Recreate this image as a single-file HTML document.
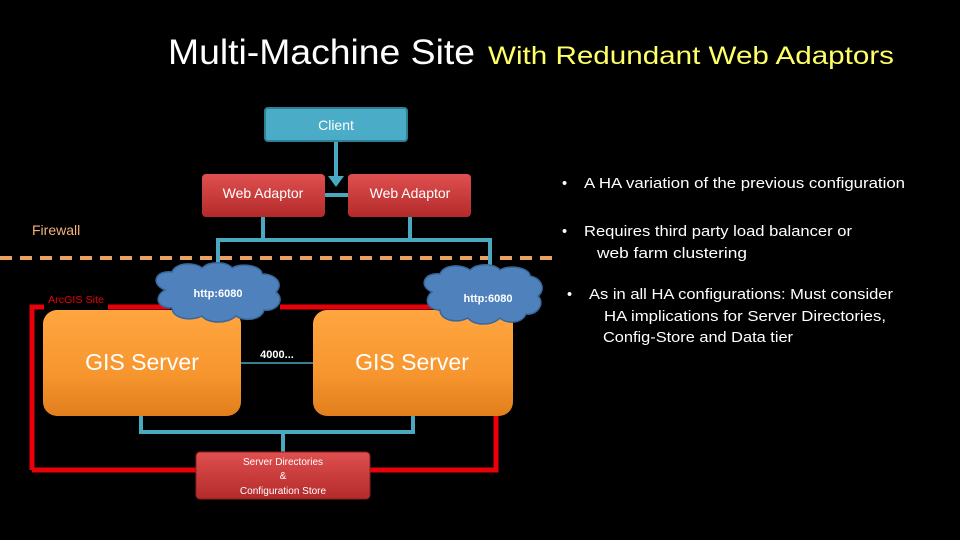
<!DOCTYPE html>
<html><head><meta charset="utf-8"><style>
html,body{margin:0;padding:0;background:#000;}
svg{display:block;}
text{font-family:"Liberation Sans",sans-serif;}
</style></head><body>
<svg width="960" height="540" viewBox="0 0 960 540" xmlns="http://www.w3.org/2000/svg">
<defs>
<linearGradient id="og" x1="0" y1="0" x2="0" y2="1"><stop offset="0" stop-color="#ffa640"/><stop offset="0.6" stop-color="#f7962f"/><stop offset="1" stop-color="#e07f1c"/></linearGradient>
<linearGradient id="rg" x1="0" y1="0" x2="0" y2="1"><stop offset="0" stop-color="#e05050"/><stop offset="1" stop-color="#b32a2a"/></linearGradient>
</defs>
<rect width="960" height="540" fill="#000"/>
<text x="168" y="64" font-size="35" fill="#fff" textLength="307" lengthAdjust="spacingAndGlyphs">Multi-Machine Site</text>
<text x="488" y="64" font-size="25" fill="#ffff66" textLength="406" lengthAdjust="spacingAndGlyphs">With Redundant Web Adaptors</text>

<!-- red site boundary -->
<path d="M32 470 V307 H44 M108 307 H170 M280 307 H440 M496 320 V470 H370 M196 470 H32" fill="none" stroke="#e8000b" stroke-width="5"/>
<text x="48" y="303" font-size="10" fill="#e8000b" textLength="56" lengthAdjust="spacingAndGlyphs">ArcGIS Site</text>

<!-- dashed firewall -->
<line x1="0" y1="258" x2="555" y2="258" stroke="#e9a25f" stroke-width="4" stroke-dasharray="12,8"/>
<text x="32" y="235" font-size="14" fill="#f4b37a">Firewall</text>

<!-- connectors -->
<g stroke="#4aa8c0" stroke-width="4" fill="none">
<line x1="336" y1="142" x2="336" y2="180"/>
<line x1="325" y1="195" x2="348" y2="195"/>
<path d="M263 217 V240 M410 217 V240 M218 272 V240 H490 V272"/>
<path d="M141 416 V432 H413 V416 M283 432 V452"/>
</g>
<polygon points="328,176 344,176 336,187" fill="#4aa8c0"/>
<line x1="241" y1="363" x2="313" y2="363" stroke="#4aa8c0" stroke-width="1.5"/>

<!-- client -->
<rect x="265" y="108" width="142" height="33" rx="3" fill="#4aacc6" stroke="#2f7f96" stroke-width="2"/>
<text x="336" y="130" font-size="14" fill="#fff" text-anchor="middle">Client</text>

<!-- web adaptors -->
<rect x="202" y="174" width="123" height="43" rx="4" fill="url(#rg)"/>
<text x="263" y="198" font-size="14" fill="#fff" text-anchor="middle">Web Adaptor</text>
<rect x="348" y="174" width="123" height="43" rx="4" fill="url(#rg)"/>
<text x="410" y="198" font-size="14" fill="#fff" text-anchor="middle">Web Adaptor</text>

<!-- GIS servers -->
<rect x="43" y="310" width="198" height="106" rx="14" fill="url(#og)"/>
<text x="142" y="370" font-size="23" fill="#fff" text-anchor="middle">GIS Server</text>
<rect x="313" y="310" width="200" height="106" rx="14" fill="url(#og)"/>
<text x="412" y="370" font-size="23" fill="#fff" text-anchor="middle">GIS Server</text>
<text x="277" y="358" font-size="11" fill="#fff" text-anchor="middle" font-weight="bold">4000...</text>

<!-- clouds -->
<g fill="#4f81bd" stroke="#3a6799" stroke-width="1.5">
<path d="M165 290 C150 284 155 270 172 272 C176 262 195 262 202 268 C210 260 228 262 232 268 C242 262 262 266 262 274 C276 274 284 284 276 292 C286 300 276 312 264 310 C262 320 244 322 236 316 C228 324 208 324 202 316 C190 322 172 318 172 308 C156 308 154 296 165 290 Z"/>
<path d="M432 292 C418 286 424 272 440 274 C444 264 462 264 470 270 C478 262 496 264 500 270 C510 264 530 268 530 276 C542 278 546 290 538 296 C546 304 536 316 526 314 C522 324 506 324 500 318 C492 326 474 326 468 318 C456 324 440 320 440 310 C426 310 424 298 432 292 Z"/>
</g>
<text x="218" y="297" font-size="11" fill="#fff" text-anchor="middle" font-weight="bold">http:6080</text>
<text x="488" y="302" font-size="11" fill="#fff" text-anchor="middle" font-weight="bold">http:6080</text>

<!-- config store -->
<rect x="196" y="452" width="174" height="47" rx="4" fill="url(#rg)" stroke="#8a1f1f" stroke-width="1"/>
<text x="283" y="465" font-size="10" fill="#fff" text-anchor="middle">Server Directories</text>
<text x="283" y="479" font-size="10" fill="#fff" text-anchor="middle">&amp;</text>
<text x="283" y="494" font-size="10" fill="#fff" text-anchor="middle">Configuration Store</text>

<!-- bullets -->
<g font-size="14.5" fill="#fff">
<text x="562" y="188">•</text>
<text x="584" y="188" textLength="321" lengthAdjust="spacingAndGlyphs">A HA variation of the previous configuration</text>
<text x="562" y="236">•</text>
<text x="584" y="236" textLength="268" lengthAdjust="spacingAndGlyphs">Requires third party load balancer or</text>
<text x="597" y="258" textLength="150" lengthAdjust="spacingAndGlyphs">web farm  clustering</text>
<text x="567" y="299">•</text>
<text x="589" y="299" textLength="304" lengthAdjust="spacingAndGlyphs">As in all HA configurations: Must consider</text>
<text x="604" y="321" textLength="282" lengthAdjust="spacingAndGlyphs">HA implications  for Server Directories,</text>
<text x="603" y="342" textLength="190" lengthAdjust="spacingAndGlyphs">Config-Store and Data tier</text>
</g>
</svg>
</body></html>
